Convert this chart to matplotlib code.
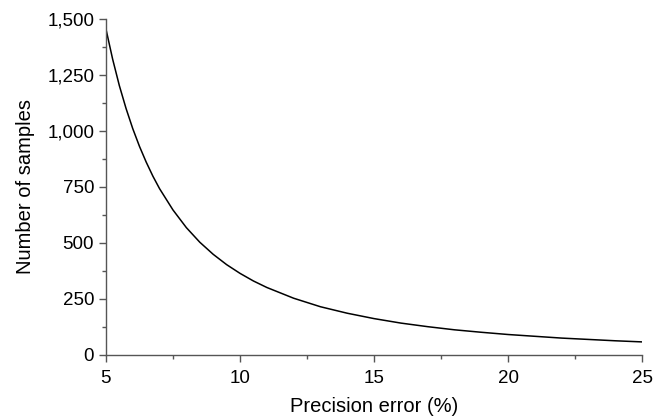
import numpy as np
import matplotlib.pyplot as plt
from matplotlib.ticker import MultipleLocator, FuncFormatter

plt.rcParams['font.family'] = ['Liberation Sans', 'DejaVu Sans']

# values
precision_error = [5, 5.25, 5.5, 5.75, 6, 6.25, 6.5, 6.75, 7, 7.5, 8, 8.5, 9, 9.5,
                   10, 10.5, 11, 12, 13, 14, 15, 16, 17, 18, 19, 20, 21, 22, 23, 24, 25]
n_samples = [1455, 1320, 1202, 1100, 1010, 931, 861, 798, 742, 647, 568, 503, 449, 403,
             364, 330, 301, 253, 215, 186, 162, 142, 126, 112, 101, 91, 83, 75, 69, 63, 58]

fig = plt.figure(figsize=(6.54, 4.2), dpi=100)
ax = fig.add_axes([0.162, 0.155, 0.820, 0.800])

ax.plot(precision_error, n_samples, color='black', lw=1.1)

ax.set_xlim(5, 25)
ax.set_ylim(0, 1500)
ax.xaxis.set_major_locator(MultipleLocator(5))
ax.xaxis.set_minor_locator(MultipleLocator(2.5))
ax.yaxis.set_major_locator(MultipleLocator(250))
ax.yaxis.set_minor_locator(MultipleLocator(125))
ax.yaxis.set_major_formatter(FuncFormatter(lambda v, p: '{:,.0f}'.format(v)))

for s in ['top', 'right']:
    ax.spines[s].set_visible(False)
for s in ['left', 'bottom']:
    ax.spines[s].set_color('#555555')
    ax.spines[s].set_linewidth(1.0)

ax.tick_params(which='major', direction='out', length=5, width=1, color='#555555',
               labelsize=13.5)
ax.tick_params(axis='x', which='major', pad=6)
ax.tick_params(axis='y', which='major', pad=3.5)
ax.tick_params(which='minor', direction='out', length=3, width=1, color='#555555')

ax.set_xlabel('Precision error (%)', fontsize=14.5, labelpad=7)
ax.set_ylabel('Number of samples', fontsize=14.5, labelpad=9)

fig.savefig('out.png', dpi=100)
